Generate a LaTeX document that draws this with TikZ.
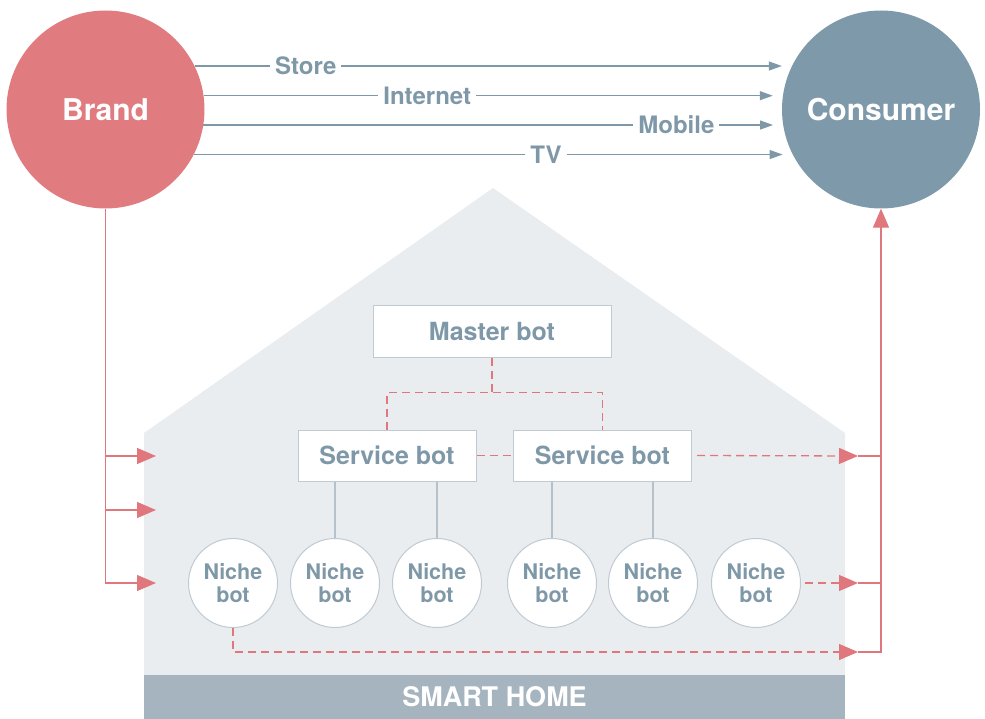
\documentclass[tikz,border=0pt]{standalone}
\usepackage{fontspec}
\setsansfont{TeX Gyre Heros}
\usepackage{xcolor}
\usepackage{tikz}
\usetikzlibrary{positioning,arrows.meta,calc}

\definecolor{brandred}{HTML}{E07B80}
\definecolor{consumerblue}{HTML}{7E9AAA}
\definecolor{labelgray}{HTML}{7F98A8}
\definecolor{housegray}{HTML}{E9EDF0}
\definecolor{bargray}{HTML}{A6B4BF}
\definecolor{bordergray}{HTML}{BFCAD2}
\definecolor{linkred}{HTML}{E0777D}
\definecolor{treegray}{HTML}{B5C2CB}

\tikzset{
  party/.style={circle, inner sep=0pt, minimum size=198pt, text=white,
    font=\sffamily\bfseries\fontsize{30}{34}\selectfont},
  channel/.style={draw=labelgray, line width=1.2pt, shorten >=10pt,
    -{Triangle[length=13pt, width=9pt]}},
  chlabel/.style={fill=white, inner xsep=5pt, inner ysep=1pt, text=labelgray,
    font=\sffamily\bfseries\fontsize{24}{26}\selectfont},
  botbox/.style={draw=bordergray, line width=1pt, fill=white, minimum height=51pt,
    text=labelgray, font=\sffamily\bfseries\fontsize{25}{28}\selectfont},
  nichebot/.style={circle, draw=bordergray, line width=1pt, fill=white, inner sep=0pt,
    minimum size=89pt, align=center, text=labelgray,
    font=\sffamily\bfseries\fontsize{21.5}{23.5}\selectfont},
  feed/.style={draw=linkred, line width=1.3pt},
  feedtip/.style={-{Triangle[length=19pt, width=16pt]}},
  linkdash/.style={draw=linkred, line width=1.3pt, dash pattern=on 8pt off 5pt},
  treeline/.style={draw=treegray, line width=1.2pt}
}

\begin{document}
\begin{tikzpicture}[x=1pt, y=-1pt]
\useasboundingbox (0,0) rectangle (985,719);
% house
\fill[housegray] (144,719) -- (144,433) -- (493,188) -- (845,433) -- (845,719) -- cycle;
\node[fill=bargray, minimum width=701pt, minimum height=44pt, inner sep=0pt, text=white,
  font=\sffamily\bfseries\fontsize{27}{30}\selectfont] (smarthome) at (494.5,697) {SMART HOME};
% the two parties
\node[party, fill=brandred] (brand) at (105.5,109.5) {Brand};
\node[party, fill=consumerblue] (consumer) at (881,109.5) {Consumer};
% direct channels
\draw[channel] (brand.26) -- (consumer.154) node[chlabel, pos=0.186] (store) {Store};
\draw[channel] (brand.8) -- (consumer.172) node[chlabel, pos=0.386] (internet) {Internet};
\draw[channel] (brand.-9) -- (consumer.189) node[chlabel, pos=0.816] (mobile) {Mobile};
\draw[channel] (brand.-27) -- (consumer.207) node[chlabel, pos=0.588] (tv) {TV};
% bots
\node[botbox, minimum width=238pt] (master) at (492,331.5) {Master bot};
\node[botbox, minimum width=178pt] (svcA) at (387,455.5) {Service bot};
\node[botbox, minimum width=178pt] (svcB) at (602.5,455.5) {Service bot};
\node[nichebot] (nicheA) at (233,583) {Niche\\bot};
\node[nichebot] (nicheB) at (335,583) {Niche\\bot};
\node[nichebot] (nicheC) at (437,583) {Niche\\bot};
\node[nichebot] (nicheD) at (552,583) {Niche\\bot};
\node[nichebot] (nicheE) at (653,583) {Niche\\bot};
\node[nichebot] (nicheF) at (756,583) {Niche\\bot};
% tree
\draw[treeline] (svcA.south -| nicheB) -- (nicheB.north);
\draw[treeline] (svcA.south -| nicheC) -- (nicheC.north);
\draw[treeline] (svcB.south -| nicheD) -- (nicheD.north);
\draw[treeline] (svcB.south -| nicheE) -- (nicheE.north);
\draw[linkdash] (master.south) -- ++(0,35) coordinate (split);
\draw[linkdash] (svcA.north) |- (split) -| (svcB.north);
\draw[linkdash] (svcA.east) -- (svcB.west);
% brand into the home
\coordinate (inA) at (156,456);
\coordinate (inB) at (156,510);
\coordinate (inC) at (156,583);
\draw[feed, feedtip] (brand.south) |- (inA);
\draw[feed, feedtip] (brand.south) |- (inB);
\draw[feed, feedtip] (brand.south) |- (inC);
% home out to the consumer
\coordinate (outA) at (858,456);
\coordinate (outB) at (858,583);
\coordinate (outC) at (858,652);
\draw[linkdash, feedtip] ([xshift=5pt]svcB.east) -- (outA);
\draw[linkdash, feedtip] ([xshift=4pt]nicheF.east) -- (outB);
\draw[linkdash, feedtip] (nicheA.south) |- (outC);
\draw[feed] (outA) -- (outA -| consumer.south);
\draw[feed] (outB) -- (outB -| consumer.south);
\draw[feed, feedtip] (outC) -| (consumer.south);
\end{tikzpicture}
\end{document}
